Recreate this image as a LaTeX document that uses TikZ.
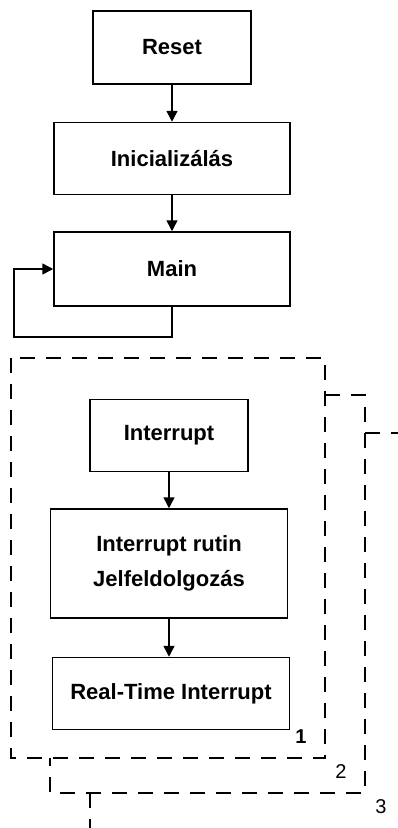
\documentclass[tikz,border=0pt]{standalone}
\usepackage{fontspec}
\setmainfont{Liberation Sans}
\usetikzlibrary{arrows.meta, positioning}
\tikzset{
  block/.style={rectangle, draw, line width=1.5pt, minimum height=72pt, align=center,
    inner sep=0pt, font=\fontsize{22}{35}\selectfont\bfseries},
  arr/.style={-{Triangle[length=11pt, width=11pt]}, line width=1.5pt},
  frame/.style={line width=1.4pt, dash pattern=on 15pt off 11pt},
  num/.style={font=\fontsize{20}{24}\selectfont},
}
\begin{document}
\begin{tikzpicture}[x=1pt, y=-1pt]
  \useasboundingbox[fill=white] (0,0) rectangle (398,828);
  % upper chain
  \node[block, minimum width=158pt, minimum height=73pt] (reset) at (172,47.5) {Reset};
  \node[block, minimum width=236pt, below=37pt of reset] (init) {Inicializálás};
  \node[block, minimum width=236pt, minimum height=74pt, below=36pt of init] (main) {Main};
  \coordinate (loop) at (14,337);
  \draw[arr] (reset) -- (init);
  \draw[arr] (init) -- (main);
  \draw[arr] (main.south) |- (loop) |- (main.west);
  % interrupt chain
  \node[block, minimum width=158pt, below=92pt of main, xshift=-3pt] (irq) {Interrupt};
  \node[block, minimum width=237pt, minimum height=109pt, below=36pt of irq] (rutin) {Interrupt rutin\\Jelfeldolgozás};
  \node[block, minimum width=237pt, below=38pt of rutin, xshift=2pt] (rti) {Real-Time Interrupt};
  \draw[arr] (irq) -- (irq |- rutin.north);
  \draw[arr] (rutin.south) -- (rutin.south |- rti.north);
  % stacked frames
  \draw[frame] (11,358) rectangle (325,758);
  \draw[frame] (325,395) -- (365,395) -- (365,793) -- (50,793) -- (50,758);
  \draw[frame] (365,433) -- (400,433);
  \draw[frame] (90,793) -- (90,830);
  \node[num, font=\fontsize{20}{24}\selectfont\bfseries] (n1) at (301,737) {1};
  \node[num] (n2) at (341,772) {2};
  \node[num] (n3) at (381,807) {3};
\end{tikzpicture}
\end{document}
